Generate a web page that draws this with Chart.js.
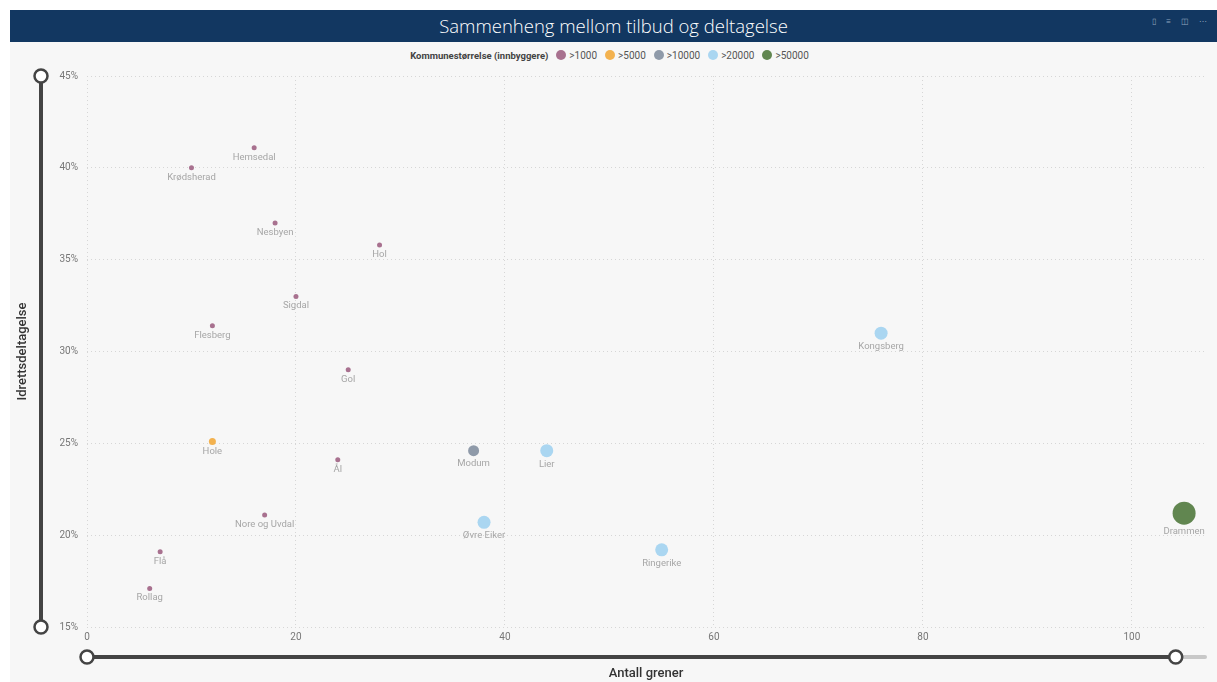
<!DOCTYPE html>
<html lang="no">
<head>
<meta charset="UTF-8" />
<title>Sammenheng mellom tilbud og deltagelse</title>
<script src="https://cdn.jsdelivr.net/npm/chart.js"></script>
<style>
  html, body { margin: 0; padding: 0; background: #fff; }
  .page { position: relative; width: 1217px; height: 682px; overflow: hidden; }
  .panel { position: absolute; left: 10px; top: 10px; right: 0; bottom: 0; background: #f7f7f7; }
  .titlebar {
    position: absolute; left: 10px; top: 10px; right: 0; height: 32px;
    background: #123761; color: #fff; text-align: center;
    font-family: "Open Sans", sans-serif; font-weight: 300; font-size: 18.5px; line-height: 32px;
  }
  .icons { position: absolute; right: 6px; top: 0; font-size: 8px; color: #8fa3bd; letter-spacing: 4px; line-height: 22px; }
  .legend {
    position: absolute; left: 10px; right: 0; top: 48px; height: 14px;
    display: flex; justify-content: center; align-items: center;
    font-family: Roboto, sans-serif; font-size: 10px; color: #555;
  }
  .legend b { color: #444; margin-right: 8px; font-weight: 700; font-size: 9.5px; }
  .legend span.item { display: flex; align-items: center; margin-right: 8px; }
  .legend i { display: inline-block; width: 10px; height: 10px; border-radius: 50%; margin-right: 3px; }
  canvas { position: absolute; left: 0; top: 0; }
</style>
</head>
<body>
<div class="page">
  <div class="panel"></div>
  <div class="titlebar">Sammenheng mellom tilbud og deltagelse<span class="icons">▯ ≡ ◫ ⋯</span></div>
  <div class="legend" id="legend"></div>
  <canvas id="scatter" width="1217" height="682"></canvas>
</div>
<script>
  // municipalities
  const kommuner = ['Krødsherad', 'Hemsedal', 'Nesbyen', 'Hol', 'Sigdal', 'Flesberg', 'Gol', 'Hole', 'Ål',
    'Modum', 'Lier', 'Nore og Uvdal', 'Øvre Eiker', 'Ringerike', 'Flå', 'Rollag', 'Kongsberg', 'Drammen'];
  const grener = [10, 16, 18, 28, 20, 12, 25, 12, 24, 37, 44, 17, 38, 55, 7, 6, 76, 105];
  const deltagelse = [40.0, 41.1, 37.0, 35.8, 33.0, 31.4, 29.0, 25.1, 24.1, 24.6, 24.6, 21.1, 20.7, 19.2, 19.1, 17.1, 31.0, 21.2];
  const storrelse = [0, 0, 0, 0, 0, 0, 0, 1, 0, 2, 3, 0, 3, 3, 0, 0, 3, 4];

  const klasser = ['>1000', '>5000', '>10000', '>20000', '>50000'];
  const farger = ['#a8718f', '#f3b24f', '#8f9aa9', '#aad6f1', '#618650'];
  const radier = [2.5, 3.5, 5.5, 6.5, 11.5];

  const yTicks = [15, 20, 25, 30, 35, 40, 45];

  // legend
  const legend = document.getElementById('legend');
  legend.innerHTML = '<b>Kommunestørrelse (innbyggere)</b>' +
    klasser.map((k, i) => `<span class="item"><i style="background:${farger[i]}"></i>${k}</span>`).join('');

  const datasets = klasser.map((k, i) => ({
    label: k,
    data: kommuner.map((n, j) => ({ x: grener[j], y: deltagelse[j], name: n })).filter((d, j) => storrelse[j] === i),
    backgroundColor: farger[i],
    borderWidth: 0,
    pointRadius: radier[i],
    pointHoverRadius: radier[i],
    clip: false
  }));

  const labelPlugin = {
    id: 'pointLabels',
    afterDatasetsDraw(chart) {
      const ctx = chart.ctx;
      ctx.save();
      ctx.font = '9.5px Roboto, sans-serif';
      ctx.fillStyle = '#a6a6a6';
      ctx.textAlign = 'center';
      ctx.textBaseline = 'middle';
      chart.data.datasets.forEach((ds, i) => {
        chart.getDatasetMeta(i).data.forEach((pt, j) => {
          ctx.fillText(ds.data[j].name, pt.x, pt.y + ds.pointRadius + 7);
        });
      });
      ctx.restore();
    }
  };

  // slicer decorations along the axes
  const sliderPlugin = {
    id: 'sliders',
    afterDraw(chart) {
      const ctx = chart.ctx;
      const a = chart.chartArea;
      const sx = 41, sy = 657;
      const xEnd = chart.scales.x.getPixelForValue(104.2);
      ctx.save();
      ctx.lineCap = 'round';
      ctx.strokeStyle = '#c8c8c8';
      ctx.lineWidth = 4;
      ctx.beginPath(); ctx.moveTo(xEnd, sy); ctx.lineTo(a.right, sy); ctx.stroke();
      ctx.strokeStyle = '#444';
      ctx.beginPath(); ctx.moveTo(sx, a.top); ctx.lineTo(sx, a.bottom); ctx.stroke();
      ctx.beginPath(); ctx.moveTo(a.left, sy); ctx.lineTo(xEnd, sy); ctx.stroke();
      ctx.lineWidth = 2.5;
      ctx.fillStyle = '#fff';
      [[sx, a.top], [sx, a.bottom], [a.left, sy], [xEnd, sy]].forEach(([cx, cy]) => {
        ctx.beginPath(); ctx.arc(cx, cy, 6.5, 0, Math.PI * 2); ctx.fill(); ctx.stroke();
      });
      ctx.restore();
    }
  };

  new Chart(document.getElementById('scatter'), {
    type: 'scatter',
    data: { datasets },
    plugins: [labelPlugin, sliderPlugin],
    options: {
      responsive: false,
      animation: false,
      layout: { padding: { left: 10, right: 12, top: 76, bottom: 0 } },
      plugins: { legend: { display: false }, tooltip: { enabled: false } },
      scales: {
        x: {
          min: 0, max: 107,
          afterFit(s) { s.height = 55; },
          ticks: { stepSize: 20, includeBounds: false, color: '#777', padding: 4, font: { family: 'Roboto', size: 10 } },
          grid: { color: '#d6d6d6', drawTicks: false },
          border: { display: false, dash: [1, 3] },
          title: { display: true, text: 'Antall grener', color: '#333', padding: 0, font: { family: 'Roboto', size: 13, weight: '500' } }
        },
        y: {
          min: 15, max: 45,
          afterFit(s) { s.width = 77; },
          afterBuildTicks(s) { s.ticks = yTicks.map(v => ({ value: v })); },
          ticks: { color: '#777', padding: 9, font: { family: 'Roboto', size: 10 }, callback: v => v + '%' },
          grid: { color: '#d6d6d6', drawTicks: false },
          border: { display: false, dash: [1, 3] },
          title: { display: true, text: 'Idrettsdeltagelse', color: '#333', padding: 5, font: { family: 'Roboto', size: 13, weight: '500' } }
        }
      }
    }
  });
</script>
</body>
</html>
